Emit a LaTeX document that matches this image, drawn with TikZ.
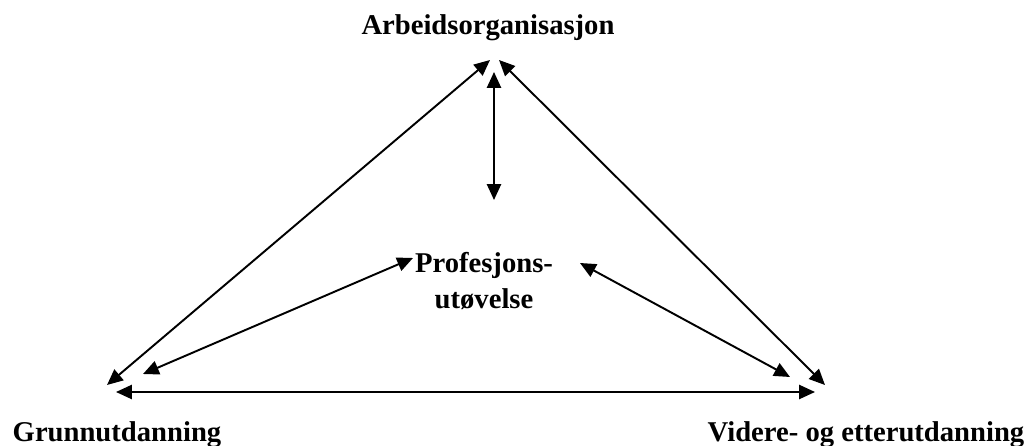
\documentclass[tikz,border=0pt]{standalone}
\usepackage{fontspec}
\setmainfont{Liberation Serif}
\usetikzlibrary{arrows.meta}
\tikzstyle{link} = [line width=1.1pt,{Triangle[length=9pt,width=8pt]}-{Triangle[length=9pt,width=8pt]}]
\tikzstyle{corner} = [font=\fontsize{16.3}{20.5}\selectfont\bfseries,inner sep=0pt]

\begin{document}
\begin{tikzpicture}[x=0.02cm,y=-0.02cm]
\useasboundingbox (0,0) rectangle (1035,446);
% tekstene
\node[corner,anchor=base] (arb) at (488,35) {Arbeidsorganisasjon};
\node[corner,align=center] (prof) at (484,281) {Profesjons-\\ut\o velse};
\node[corner,anchor=base] (grunn) at (117,441) {Grunnutdanning};
\node[corner,anchor=base] (videre) at (866,441) {Videre- og etterutdanning};
% endepunkter for pilene
\coordinate (arb-l) at (490,60);
\coordinate (arb-m) at (494,72);
\coordinate (arb-r) at (499,60);
\coordinate (mid) at (494,200);
\coordinate (prof-l) at (413,258);
\coordinate (prof-r) at (580,263);
\coordinate (grunn-d) at (107,385);
\coordinate (grunn-i) at (143,374);
\coordinate (grunn-h) at (116,392);
\coordinate (videre-d) at (825,385);
\coordinate (videre-i) at (790,377);
\coordinate (videre-h) at (815,392);
% pilene
\draw[link] (grunn-d) -- (arb-l);
\draw[link] (arb-r) -- (videre-d);
\draw[link] (arb-m) -- (mid);
\draw[link] (grunn-i) -- (prof-l);
\draw[link] (prof-r) -- (videre-i);
\draw[link] (grunn-h) -- (videre-h);
\end{tikzpicture}
\end{document}
